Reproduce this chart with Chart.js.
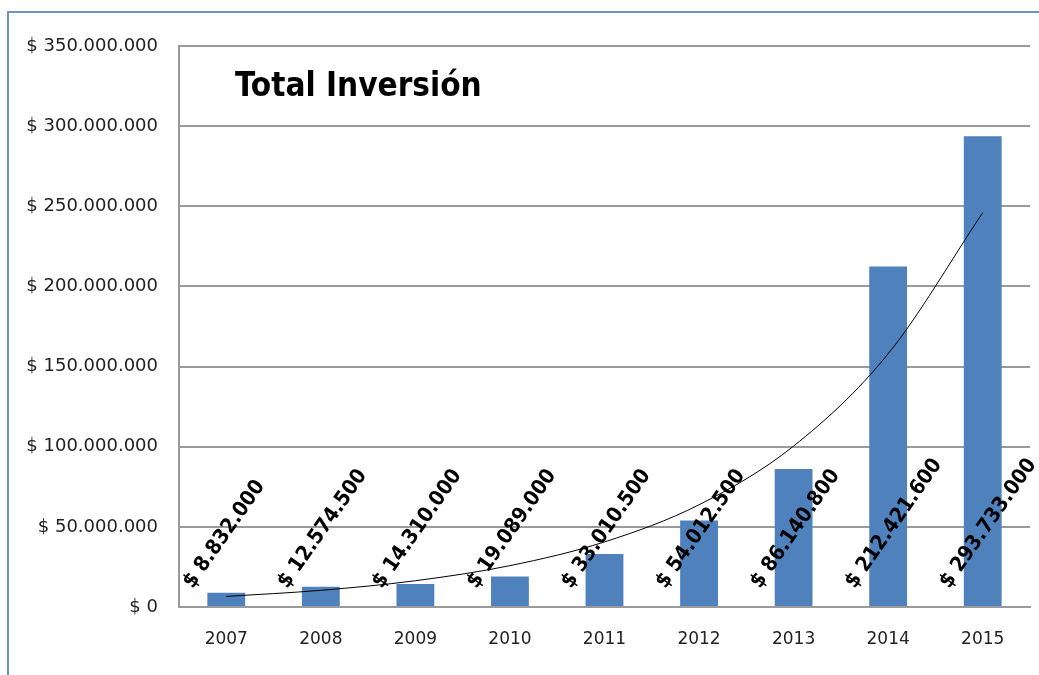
<!DOCTYPE html>
<html>
<head>
<meta charset="utf-8">
<script src="https://cdn.jsdelivr.net/npm/chart.js@4.4.1/dist/chart.umd.min.js"></script>
<style>
  body { margin: 0; background: #fff; }
  #wrap { position: relative; width: 1039px; height: 675px; }
  #frame { position: absolute; left: 7px; top: 11px; right: 0; bottom: 0;
           border-top: 2px solid #6f93c8; border-left: 2px solid #6f93c8; pointer-events: none; }
</style>
</head>
<body>
<div id="wrap">
  <canvas id="chart" width="1039" height="675"></canvas>
  <div id="frame"></div>
</div>
<script>
//Data
const years = ['2007', '2008', '2009', '2010', '2011', '2012', '2013', '2014', '2015'];
const investment = [8832000, 12574500, 14310000, 19089000, 33010500, 54012500, 86140800, 212421600, 293733000];
// exponential trendline
const trend = [6600000, 10400000, 16400000, 25800000, 40600000, 63800000, 100400000, 158000000, 246000000];
const yTicks = [0, 50000000, 100000000, 150000000, 200000000, 250000000, 300000000, 350000000];
const chartTitle = 'Total Inversión';

function money(v) {
  return '$ ' + String(v).replace(/\B(?=(\d{3})+(?!\d))/g, '.');
}

//Rotated labels at the bar base + title inside plot
const labelPlugin = {
  id: 'labels',
  afterDatasetsDraw(chart) {
    const ctx = chart.ctx;
    const meta = chart.getDatasetMeta(0);
    const base = chart.scales.y.getPixelForValue(0);
    ctx.save();
    ctx.fillStyle = '#000';
    ctx.font = 'bold 21px "DejaVu Sans Condensed", "DejaVu Sans"';
    ctx.textAlign = 'left';
    ctx.textBaseline = 'middle';
    meta.data.forEach((bar, i) => {
      ctx.save();
      ctx.translate(bar.x - 38, base - 21);
      ctx.rotate(-55 * Math.PI / 180);
      ctx.fillText(money(investment[i]), 0, 0);
      ctx.restore();
    });
    ctx.font = 'bold 33px "DejaVu Sans Condensed", "DejaVu Sans"';
    ctx.fillText(chartTitle, 235, 87);
    ctx.restore();
  }
};

const ctx = document.getElementById('chart').getContext('2d');
const chart = new Chart(ctx, {
  type: 'bar',
  data: {
    labels: years,
    datasets: [{
      type: 'bar',
      data: investment,
      backgroundColor: '#4f81bd',
      barPercentage: 0.4,
      categoryPercentage: 1,
      order: 2
    }, {
      type: 'line',
      data: trend,
      borderColor: '#000',
      borderWidth: 1,
      pointRadius: 0,
      cubicInterpolationMode: 'monotone',
      fill: false,
      order: 1
    }]
  },
  options: {
    responsive: false,
    animation: false,
    layout: { padding: { left: 0, top: 46, right: 9, bottom: 0 } },
    plugins: {
      legend: { display: false },
      tooltip: { enabled: false }
    },
    scales: {
      x: {
        grid: { display: false, drawTicks: false },
        border: { display: true, color: '#9a9a9a', width: 2 },
        ticks: { color: '#222', padding: 22, font: { family: 'DejaVu Sans', size: 17 } },
        afterFit: function (scale) { scale.height = 675 - 607; }
      },
      y: {
        min: 0,
        max: 350000000,
        afterBuildTicks: function (scale) {
          scale.ticks = yTicks.map(v => ({ value: v }));
        },
        grid: { color: '#9a9a9a', lineWidth: 2, drawTicks: false },
        border: { display: true, color: '#9a9a9a', width: 2 },
        ticks: {
          color: '#222',
          padding: 21,
          font: { family: 'DejaVu Sans', size: 18 },
          callback: function (value) { return money(value); }
        },
        afterFit: function (scale) { scale.width = 179; }
      }
    }
  },
  plugins: [labelPlugin]
});
</script>
</body>
</html>
